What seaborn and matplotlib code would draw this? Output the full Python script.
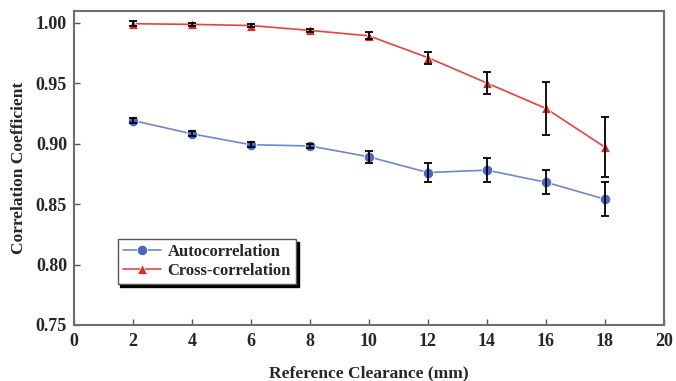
import matplotlib
matplotlib.use("Agg")
import matplotlib.pyplot as plt
import seaborn as sns
import pandas as pd

x = [2, 4, 6, 8, 10, 12, 14, 16, 18]
auto = [0.919, 0.908, 0.899, 0.898, 0.889, 0.876, 0.878, 0.868, 0.854]
auto_err = [0.002, 0.002, 0.002, 0.002, 0.005, 0.008, 0.010, 0.010, 0.014]
cross = [0.999, 0.9985, 0.9975, 0.9935, 0.989, 0.971, 0.950, 0.929, 0.897]
cross_err = [0.002, 0.0015, 0.0015, 0.0015, 0.003, 0.005, 0.009, 0.022, 0.025]
labels = ["Autocorrelation", "Cross-correlation"]

sns.set_style("ticks")
plt.rcParams['font.family'] = ['Liberation Serif', 'DejaVu Serif']
plt.rcParams['font.weight'] = 'bold'

df = pd.DataFrame({
    "x": x * 2,
    "y": auto + cross,
    "s": [labels[0]] * len(x) + [labels[1]] * len(x),
})

fig = plt.figure(figsize=(6.76, 3.81), dpi=100)
ax = fig.add_axes([0.1095, 0.147, 0.8725, 0.824])

blue = "#4a68c2"
red = "#e02a22"
sns.lineplot(data=df, x="x", y="y", hue="s", style="s",
             palette={labels[0]: blue, labels[1]: red},
             markers={labels[0]: "o", labels[1]: "^"}, dashes=False,
             markersize=7.5, markeredgecolor="white", markeredgewidth=0.6,
             linewidth=1.2, ax=ax, zorder=2)
ax.lines[0].set_color("#6f86d2")
ax.lines[0].set_markerfacecolor(blue)
ax.lines[1].set_color("#ec4040")
ax.lines[1].set_markerfacecolor(red)

ax.errorbar(x, auto, yerr=auto_err, fmt="none", ecolor="black",
            elinewidth=1.3, capsize=3, capthick=1.3, zorder=3)
ax.errorbar(x, cross, yerr=cross_err, fmt="none", ecolor="black",
            elinewidth=1.3, capsize=3, capthick=1.3, zorder=3)

ax.set_xlim(0, 20)
ax.set_ylim(0.75, 1.0095)
ax.set_xticks(range(0, 21, 2))
ax.set_yticks([0.75, 0.80, 0.85, 0.90, 0.95, 1.00])
ax.set_yticklabels(["0.75", "0.80", "0.85", "0.90", "0.95", "1.00"])
ax.tick_params(direction="in", length=4, width=1, color="#555555",
               labelsize=13)
ax.tick_params(axis="x", pad=6)
ax.tick_params(axis="y", pad=5)
for lab in ax.get_xticklabels() + ax.get_yticklabels():
    lab.set_fontweight("bold")
for sp in ax.spines.values():
    sp.set_color("#6e6e6e")
    sp.set_linewidth(1.5)

ax.set_xlabel("Reference Clearance (mm)", fontsize=12.5, fontweight="bold", labelpad=11)
ax.set_ylabel("Correlation Coefficient", fontsize=12.5, fontweight="bold", labelpad=6)

h, l = ax.get_legend_handles_labels()
h[0].set_color("#6f86d2"); h[0].set_markerfacecolor(blue)
h[1].set_color("#ec4040"); h[1].set_markerfacecolor(red)
leg = ax.legend(h, l, loc="lower left", bbox_to_anchor=(0.074, 0.13),
                frameon=True, fancybox=False, shadow={"color": "black", "alpha": 1},
                prop={"family": "Liberation Serif", "weight": "bold", "size": 12},
                handlelength=2.3, borderpad=0.3, labelspacing=0.2, handletextpad=0.4,
                borderaxespad=0)
leg.get_frame().set_edgecolor("#555555")
leg.get_frame().set_linewidth(1.0)

fig.savefig("out.png", dpi=100)
